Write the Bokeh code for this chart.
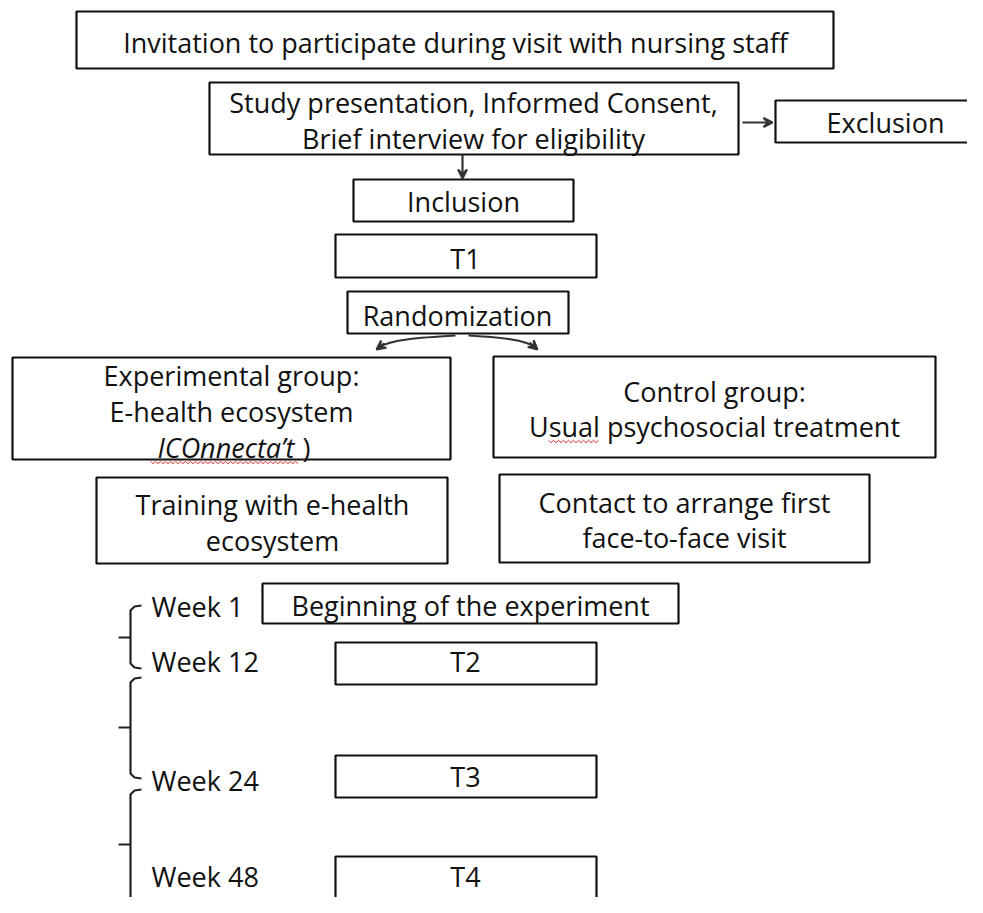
import numpy as np
from bokeh.plotting import figure
from bokeh.models import Range1d, Arrow, VeeHead, ColumnDataSource
from bokeh.core.properties import value
from bokeh.embed import file_html
from bokeh.resources import INLINE

FONT = value("Open Sans")
FS = "27px"

# boxes: left, right, top, bottom (pixel-like data units, y grows downward)
box_names = ["invitation", "study", "exclusion", "inclusion", "t1", "random",
             "experimental", "control", "training", "contact", "beginning",
             "t2", "t3", "t4"]
box_left = [76, 209, 775, 353, 335, 347, 12, 493, 96, 499, 262, 335, 335, 335]
box_right = [833, 738, 990, 573, 596, 568, 450, 935, 447, 869, 678, 596, 596, 596]
box_top = [11, 82, 100, 179, 234, 291, 357, 356, 477, 474, 583, 642, 755, 856]
box_bottom = [68, 154, 142, 221, 277, 333, 459, 457, 563, 562, 623, 684, 797, 930]

# text lines: x centre, y centre, text
line_x = [455, 473, 473, 885, 463, 465, 457, 231, 231, 714, 714, 272, 272,
          684, 684, 470, 465, 465, 465]
line_y = [42, 102, 138, 122, 201, 258, 315, 375, 411, 391, 426, 504, 540,
          502, 537, 605, 661, 776, 876]
line_text = ["Invitation to participate during visit with nursing staff",
             "Study presentation, Informed Consent,",
             "Brief interview for eligibility",
             "Exclusion", "Inclusion", "T1", "Randomization",
             "Experimental group:", "E-health ecosystem",
             "Control group:", "Usual psychosocial treatment",
             "Training with e-health", "ecosystem",
             "Contact to arrange first", "face-to-face visit",
             "Beginning of the experiment", "T2", "T3", "T4"]

# week labels
week_text = ["Week 1", "Week 12", "Week 24", "Week 48"]
week_y = [606, 661, 780, 876]

# brace spans (top, middle, bottom)
brace_top = [605, 677, 789]
brace_mid = [637, 727, 844]
brace_bot = [668, 778, 940]

p = figure(width=967, height=897, x_range=Range1d(0, 967), y_range=Range1d(897, 0),
           output_backend="svg", toolbar_location=None, min_border=0)
p.axis.visible = False
p.grid.visible = False
p.outline_line_color = None
p.background_fill_color = "white"

src = ColumnDataSource(dict(left=box_left, right=box_right, top=box_top, bottom=box_bottom))
p.quad(left="left", right="right", top="top", bottom="bottom", source=src,
       fill_color="white", line_color="#111111", line_width=2.2)

p.text(x=line_x, y=line_y, text=line_text, text_align="center", text_baseline="middle",
       text_font=FONT, text_font_size=FS, text_color="#111111")

# italic product name
p.text(x=[294], y=[447], text=["ICOnnecta\u2019t"], text_align="right", text_baseline="middle",
       text_font=FONT, text_font_size=FS, text_font_style="italic", text_color="#111111")
p.text(x=[302], y=[447], text=[")"], text_align="left", text_baseline="middle",
       text_font=FONT, text_font_size=FS, text_color="#111111")

p.text(x=[151] * 4, y=week_y, text=week_text, text_align="left", text_baseline="middle",
       text_font=FONT, text_font_size=FS, text_color="#111111")

# spell-check squiggles
def squiggle(x0, x1, y):
    xs = np.arange(x0, x1 + 0.1, 2.5)
    ys = y + np.where(np.arange(len(xs)) % 2 == 0, -1.2, 1.2)
    p.line(xs, ys, line_color="#e03030", line_width=1)

squiggle(150, 298, 462)
squiggle(548, 600, 441)

# braces
for t, m, b in zip(brace_top, brace_mid, brace_bot):
    p.line([141, 134, 130, 130, 118], [t, t + 1, t + 5, m, m], line_color="#222222", line_width=2.2)
    p.line([130, 130, 134, 141], [m, b - 5, b - 1, b], line_color="#222222", line_width=2.2)

# arrows
head = dict(size=9, line_color="#333333", line_width=2, fill_color="#333333")
p.add_layout(Arrow(end=VeeHead(**head), x_start=742, y_start=122, x_end=772, y_end=122,
                   line_color="#333333", line_width=2.2))
p.add_layout(Arrow(end=VeeHead(**head), x_start=462, y_start=154, x_end=462, y_end=178,
                   line_color="#333333", line_width=2.2))

p.bezier(x0=[455, 468], y0=[335, 335], x1=[378, 535], y1=[347, 347],
         cx0=[420, 500], cy0=[337, 337], cx1=[390, 525], cy1=[339, 339],
         line_color="#333333", line_width=2.2)
p.add_layout(Arrow(end=VeeHead(**head), x_start=384, y_start=343, x_end=376, y_end=349,
                   line_color="#333333", line_width=2.2))
p.add_layout(Arrow(end=VeeHead(**head), x_start=529, y_start=342, x_end=537, y_end=349,
                   line_color="#333333", line_width=2.2))

open("out.html", "w").write(file_html(p, INLINE))
